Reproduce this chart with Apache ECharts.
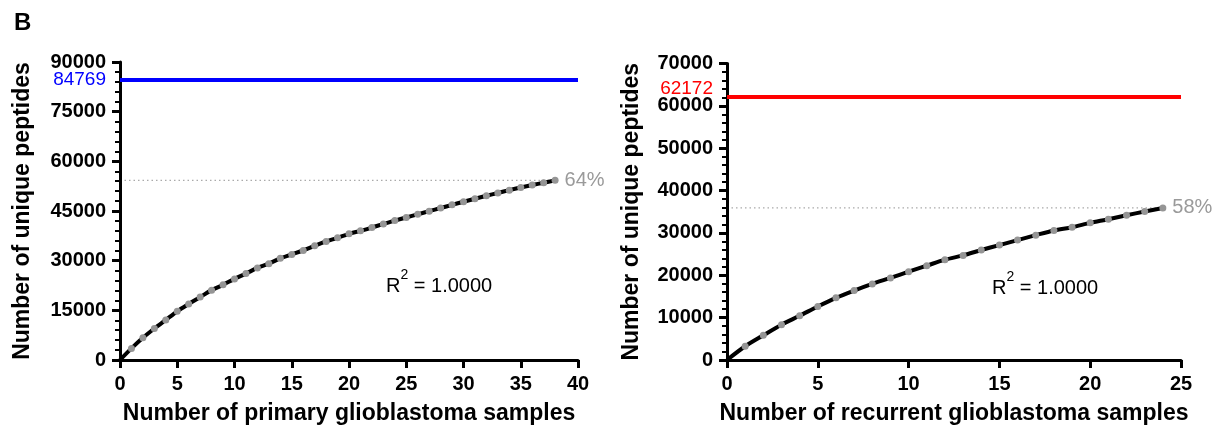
<!DOCTYPE html>
<html>
<head>
<meta charset="utf-8">
<script src="https://cdn.jsdelivr.net/npm/echarts@6/dist/echarts.min.js"></script>
<style>
  html, body { margin: 0; padding: 0; background: #fff; }
  #chart { width: 1216px; height: 430px; }
</style>
</head>
<body>
<div id="chart"></div>
<script>
// Cumulative unique peptides as samples are added (sample count = index + 1)
const primaryPeptides = [
  3500, 6700, 9500, 12100, 14700, 16900, 19000, 21100, 22700, 24500,
  26100, 27800, 29100, 30700, 31900, 33100, 34500, 35800, 36900, 38100,
  39000, 40000, 41100, 42100, 43050, 44000, 44950, 45900, 46850, 47800,
  48700, 49600, 50450, 51300, 52100, 52850, 53550, 54250
];
const recurrentPeptides = [
  3240, 5830, 8340, 10450, 12640, 14680, 16400, 17970, 19380, 20860,
  22270, 23680, 24700, 25960, 27130, 28310, 29480, 30580, 31360, 32380,
  33240, 34180, 35040, 35900
];
// Projected totals (horizontal reference lines)
const primaryTotal = 84769;
const recurrentTotal = 62172;
const rSquaredPrimary = '1.0000';
const rSquaredRecurrent = '1.0000';

// Axis settings
const primaryXMax = 40, primaryXStep = 5;
const primaryYMax = 90000, primaryYStep = 15000, primaryYMinor = 3000;
const recurrentXMax = 25, recurrentXStep = 5;
const recurrentYMax = 70000, recurrentYStep = 10000, recurrentYMinor = 2000;

const FONT = '"Liberation Sans", Arial, sans-serif';
const DOT = '#959595';

function points(values) {
  return values.map((v, i) => [i + 1, v]);
}
function curve(values) {
  return [[0, 0]].concat(points(values));
}

function xAxis(gridIndex, max, step, name) {
  return {
    type: 'value', gridIndex, min: 0, max, interval: step,
    name, nameLocation: 'middle', nameGap: 42,
    nameTextStyle: { fontFamily: FONT, fontWeight: 'bold', fontSize: 23, color: '#000' },
    axisLine: { lineStyle: { color: '#000', width: 3 } },
    axisTick: { length: 8, lineStyle: { width: 3, color: '#000' } },
    axisLabel: { margin: 14, fontFamily: FONT, fontWeight: 'bold', fontSize: 20, color: '#000',
                 formatter: v => String(v) },
    splitLine: { show: false }
  };
}
function yAxis(gridIndex, max, step, gap) {
  return {
    type: 'value', gridIndex, min: 0, max, interval: step,
    name: 'Number of unique peptides', nameLocation: 'middle', nameGap: gap,
    nameTextStyle: { fontFamily: FONT, fontWeight: 'bold', fontSize: 23, color: '#000' },
    axisLine: { show: true, lineStyle: { color: '#000', width: 3 } },
    axisTick: { length: 8, lineStyle: { width: 3, color: '#000' } },
    axisLabel: { margin: 14, fontFamily: FONT, fontWeight: 'bold', fontSize: 20, color: '#000',
                 formatter: v => String(v) },
    splitLine: { show: false }, z: 3
  };
}
// Companion axis carrying only the short minor ticks
function yMinorAxis(gridIndex, max, step) {
  return {
    type: 'value', gridIndex, min: 0, max, interval: step, position: 'left',
    axisLine: { show: false },
    axisTick: { show: true, length: 5, lineStyle: { width: 2, color: '#000' } },
    axisLabel: { show: false },
    splitLine: { show: false }, z: 2
  };
}

function panelSeries(idx, values, total, color, labelShift) {
  const last = values.length;
  const endVal = values[last - 1];
  return [
    {
      // projected total
      type: 'line', xAxisIndex: idx, yAxisIndex: idx, data: [],
      markLine: {
        silent: true, symbol: 'none', animation: false,
        data: [{ yAxis: total }],
        lineStyle: { color, width: 4, type: 'solid' },
        label: {
          position: 'start', distance: 14, offset: [0, labelShift],
          formatter: String(total),
          color, fontFamily: FONT, fontSize: 19
        }
      }
    },
    {
      // level reached by the last sample
      type: 'line', xAxisIndex: idx, yAxisIndex: idx, silent: true,
      data: [[0, endVal], [last, endVal]],
      showSymbol: false, symbol: 'none',
      lineStyle: { color: '#aaaaaa', width: 1.2, type: [1.5, 3] },
      z: 1
    },
    {
      // fitted curve
      type: 'line', xAxisIndex: idx, yAxisIndex: idx, silent: true,
      data: curve(values), smooth: 0.3, showSymbol: false, symbol: 'none',
      lineStyle: { color: '#000', width: 4 }, z: 2
    },
    {
      type: 'scatter', xAxisIndex: idx, yAxisIndex: idx, silent: true,
      data: points(values), symbolSize: 7,
      itemStyle: { color: DOT, opacity: 1 }, z: 3,
      label: {
        show: true, position: 'right', distance: 6,
        fontFamily: FONT, fontSize: 20, color: '#9a9a9a',
        formatter: p => p.dataIndex === last - 1
          ? Math.round(p.value[1] / total * 100) + '%' : ''
      }
    }
  ];
}

function r2Text(left, top, value) {
  return {
    type: 'text', left, top, silent: true,
    style: {
      text: '{r|R}{s|2}{r| = ' + value + '}',
      rich: {
        r: { fontFamily: FONT, fontSize: 20, lineHeight: 28, fill: '#000', verticalAlign: 'bottom' },
        s: { fontFamily: FONT, fontSize: 14, fill: '#000', verticalAlign: 'top' }
      }
    }
  };
}

const chart = echarts.init(document.getElementById('chart'), null, { renderer: 'canvas' });
chart.setOption({
  animation: false,
  backgroundColor: '#fff',
  title: {
    text: 'B', left: 9, top: 6,
    textStyle: { fontFamily: FONT, fontWeight: 'bold', fontSize: 24, color: '#000' }
  },
  grid: [
    { left: 120, right: 638, top: 62, bottom: 70 },
    { left: 727, right: 35, top: 63.5, bottom: 68.5 }
  ],
  xAxis: [
    xAxis(0, primaryXMax, primaryXStep, 'Number of primary glioblastoma samples'),
    xAxis(1, recurrentXMax, recurrentXStep, 'Number of recurrent glioblastoma samples')
  ],
  yAxis: [
    yAxis(0, primaryYMax, primaryYStep, 86),
    yAxis(1, recurrentYMax, recurrentYStep, 84),
    yMinorAxis(0, primaryYMax, primaryYMinor),
    yMinorAxis(1, recurrentYMax, recurrentYMinor)
  ],
  series: []
    .concat(panelSeries(0, primaryPeptides, primaryTotal, '#0000ff', 0))
    .concat(panelSeries(1, recurrentPeptides, recurrentTotal, '#ff0000', -8)),
  graphic: [
    r2Text(386, 268, rSquaredPrimary),
    r2Text(992, 270, rSquaredRecurrent)
  ]
});
</script>
</body>
</html>
